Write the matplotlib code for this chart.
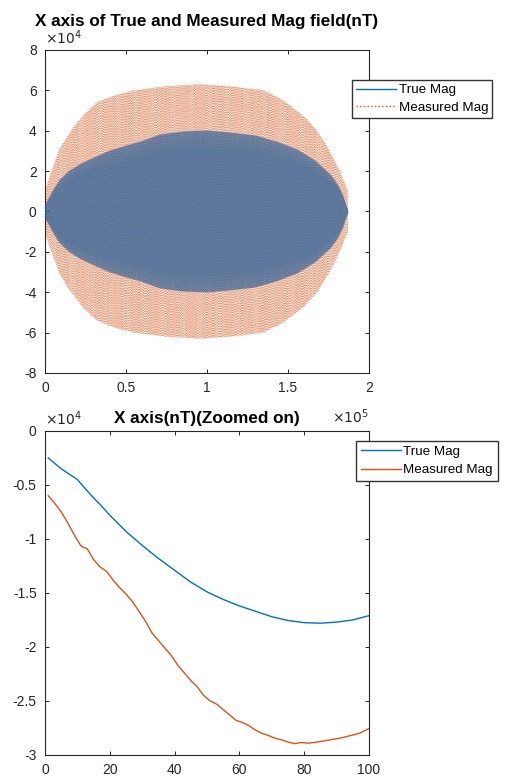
import numpy as np
import matplotlib
matplotlib.use('Agg')
import matplotlib.pyplot as plt
from matplotlib.ticker import FuncFormatter

plt.rcParams['font.family'] = ['Liberation Sans', 'DejaVu Sans']

# envelope of the oscillating X-axis field (sample index, nT)
true_env_idx = [0, 2000, 5000, 9000, 15000, 22000, 30000, 40000, 50000, 59000,
                71000, 85000, 100000, 114000, 130000, 143000, 156000, 167000,
                176500, 181000, 184000, 186000, 187000]
true_env = [0.3, 0.6, 1.05, 1.55, 2.0, 2.35, 2.65, 3.0, 3.25, 3.45,
            3.8, 3.95, 4.0, 3.9, 3.75, 3.45, 3.05, 2.5,
            1.8, 1.3, 0.8, 0.3, 0.1]
meas_env_idx = [0, 4000, 9000, 16000, 24000, 32000, 43000, 55000, 75000, 95000,
                115000, 135000, 145000, 152000, 160000, 168000, 175000, 182000,
                187000]
meas_env = [1.05, 2.0, 3.1, 4.0, 4.8, 5.4, 5.75, 6.0, 6.2, 6.3,
            6.2, 6.0, 5.6, 5.2, 4.7, 4.0, 3.1, 2.0,
            1.0]
true_env = [v * 1e4 for v in true_env]
meas_env = [v * 1e4 for v in meas_env]
n_half_cycles = 640

# first 100 samples (zoomed panel), nT
true_x = [1, 3, 5, 7, 10, 12, 15, 17, 20, 25, 30, 35, 40, 45, 50, 55, 60, 65,
          70, 75, 80, 85, 90, 95, 100]
true_y = [-0.25, -0.30, -0.35, -0.39, -0.45, -0.52, -0.62, -0.68, -0.78, -0.93,
          -1.06, -1.18, -1.29, -1.40, -1.49, -1.56, -1.62, -1.67, -1.72, -1.755,
          -1.775, -1.78, -1.77, -1.75, -1.71]
meas_x = [1, 3, 5, 7, 9, 11, 12, 13, 15, 17, 19, 21, 23, 25, 27, 29, 31, 33, 35,
          37, 39, 41, 43, 45, 47, 49, 51, 53, 55, 57, 59, 61, 63, 65, 67, 69, 71,
          73, 75, 77, 79, 81, 83, 85, 87, 89, 91, 93, 95, 97, 99, 100]
meas_y = [-0.60, -0.67, -0.75, -0.85, -0.96, -1.06, -1.08, -1.09, -1.19, -1.26,
          -1.30, -1.38, -1.45, -1.51, -1.58, -1.67, -1.76, -1.87, -1.94, -2.01,
          -2.08, -2.17, -2.24, -2.31, -2.37, -2.45, -2.50, -2.53, -2.58, -2.63,
          -2.68, -2.70, -2.73, -2.77, -2.80, -2.82, -2.845, -2.86, -2.88, -2.895,
          -2.885, -2.89, -2.885, -2.875, -2.865, -2.855, -2.845, -2.83, -2.815,
          -2.80, -2.77, -2.755]
true_y = [v * 1e4 for v in true_y]
meas_y = [v * 1e4 for v in meas_y]

blue = '#0072BD'
orange = '#D95319'
txt = '#262626'

fig = plt.figure(figsize=(5.05, 7.78), dpi=100)
ax1 = fig.add_axes([0.0891, 0.5206, 0.6416, 0.4152])
ax2 = fig.add_axes([0.0891, 0.0296, 0.6416, 0.4165])

# top panel: peaks alternate sign along the envelopes
peak_idx = np.linspace(0, 187000, n_half_cycles)
sign = np.where(np.arange(n_half_cycles) % 2 == 0, 1.0, -1.0)
ax1.plot(peak_idx, sign * np.interp(peak_idx, true_env_idx, true_env),
         color='#1f5a96', lw=0.6, alpha=0.7, zorder=3, label='True Mag')
ax1.plot(peak_idx, -sign * np.interp(peak_idx, meas_env_idx, meas_env),
         color=orange, lw=0.45, ls=':', alpha=0.75, zorder=2, label='Measured Mag')
ax1.set_xlim(0, 2e5)
ax1.set_ylim(-8e4, 8e4)
ax1.set_xticks([0, 0.5e5, 1e5, 1.5e5, 2e5])
ax1.set_yticks(np.arange(-8e4, 8.1e4, 2e4))
ax1.xaxis.set_major_formatter(FuncFormatter(lambda v, p: f'{v / 1e5:g}'))
ax1.yaxis.set_major_formatter(FuncFormatter(lambda v, p: f'{v / 1e4:g}'))
ax1.set_title('X axis of True and Measured Mag field(nT)', fontsize=12.3,
              fontweight='bold', pad=17)
ax1.text(0.0, 1.01, r'$\times10^4$', transform=ax1.transAxes, fontsize=10,
         color=txt, va='bottom')
ax1.text(1.0, -0.136, r'$\times10^5$', transform=ax1.transAxes, fontsize=10,
         color=txt, ha='right', va='center')
leg1 = ax1.legend(loc='upper left', bbox_to_anchor=(0.948, 0.907), fontsize=9.6,
                  frameon=True, fancybox=False, edgecolor='#333333', framealpha=1,
                  borderpad=0.3, labelspacing=0.4, handlelength=3.0,
                  handletextpad=0.2, borderaxespad=0)
leg1.get_lines()[0].set_color(blue)
for ln in leg1.get_lines():
    ln.set_linewidth(1.0)
    ln.set_alpha(1)

# bottom panel
ax2.plot(true_x, true_y, color=blue, lw=1.0, label='True Mag')
ax2.plot(meas_x, meas_y, color=orange, lw=1.0, label='Measured Mag')
ax2.set_xlim(0, 100)
ax2.set_ylim(-3e4, 0)
ax2.set_xticks(range(0, 101, 20))
ax2.set_yticks(np.arange(-3e4, 1, 0.5e4))
ax2.yaxis.set_major_formatter(FuncFormatter(lambda v, p: f'{v / 1e4:g}'))
ax2.set_title('X axis(nT)(Zoomed on)', fontsize=12.3, fontweight='bold', pad=6)
ax2.text(0.0, 1.01, r'$\times10^4$', transform=ax2.transAxes, fontsize=10,
         color=txt, va='bottom')
ax2.legend(loc='upper left', bbox_to_anchor=(0.96, 0.969), fontsize=9.6,
           frameon=True, fancybox=False, edgecolor='#333333', framealpha=1,
           borderpad=0.35, labelspacing=0.45, handlelength=3.0,
           handletextpad=0.2, borderaxespad=0)

for ax in (ax1, ax2):
    ax.tick_params(direction='in', top=True, right=True, labelsize=10,
                   colors=txt, length=3, width=0.7, pad=6)
    for s in ax.spines.values():
        s.set_linewidth(0.8)
        s.set_color(txt)

fig.savefig('out.png', dpi=100)
